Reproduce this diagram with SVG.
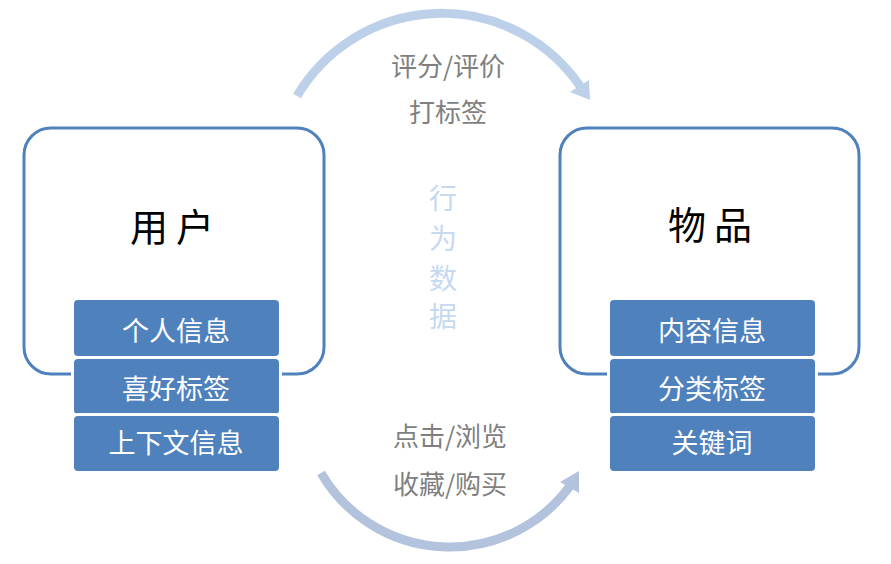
<svg xmlns="http://www.w3.org/2000/svg" width="891" height="564" viewBox="0 0 891 564">
<style>
.big{fill:#ffffff;stroke:#4f81bd;stroke-width:3}
.tab{fill:#4f81bd;stroke:#ffffff;stroke-width:6;paint-order:stroke}
.tabt{font-family:"Noto Sans CJK SC","Noto Sans",sans-serif;font-size:27px;fill:#ffffff;text-anchor:middle;dominant-baseline:central}
.title{font-family:"Noto Sans CJK SC",sans-serif;font-size:38px;fill:#000000;text-anchor:middle;dominant-baseline:central;letter-spacing:8px}
.lbl{font-family:"Noto Sans CJK SC","Noto Sans",sans-serif;font-size:26px;fill:#7f7f7f;text-anchor:middle;dominant-baseline:central}
.vert{font-family:"Noto Sans CJK SC",sans-serif;font-size:28px;fill:#c6d9f1;text-anchor:middle;dominant-baseline:central}
</style>
<rect width="891" height="564" fill="#ffffff"/>
<g id="connectors">
<path d="M297,96 A168,168 0 0 1 580,86" fill="none" stroke="#bdd0ea" stroke-width="9"/>
<polygon points="570,92 589,80 590,100" fill="#bdd0ea"/>
<path d="M321,473 A149,149 0 0 0 570,486" fill="none" stroke="#b3c3dd" stroke-width="9"/>
<polygon points="560,482 579,493 579,471" fill="#b3c3dd"/>
</g>
<g id="user">
<rect class="big" x="24" y="128" width="300" height="246" rx="27"/>
<text class="title" x="176" y="224">用户</text>
</g>
<g id="user-info">
<rect class="tab" x="74" y="300" width="205" height="56" rx="4"/>
<text class="tabt" x="176" y="329">个人信息</text>
</g>
<g id="user-pref">
<rect class="tab" x="74" y="359" width="205" height="55" rx="4"/>
<text class="tabt" x="176" y="387">喜好标签</text>
</g>
<g id="user-context">
<rect class="tab" x="74" y="416" width="205" height="55" rx="4"/>
<text class="tabt" x="176" y="441">上下文信息</text>
</g>
<g id="item">
<rect class="big" x="560" y="128" width="299" height="246" rx="27"/>
<text class="title" x="714" y="222">物品</text>
</g>
<g id="item-content">
<rect class="tab" x="610" y="300" width="205" height="56" rx="4"/>
<text class="tabt" x="712" y="329">内容信息</text>
</g>
<g id="item-category">
<rect class="tab" x="610" y="359" width="205" height="55" rx="4"/>
<text class="tabt" x="712" y="387">分类标签</text>
</g>
<g id="item-keywords">
<rect class="tab" x="610" y="416" width="205" height="55" rx="4"/>
<text class="tabt" x="712" y="441">关键词</text>
</g>
<g id="labels">
<text class="lbl" x="448" y="64">评分/评价</text>
<text class="lbl" x="448" y="110">打标签</text>
<text class="lbl" x="450" y="434">点击/浏览</text>
<text class="lbl" x="450" y="482">收藏/购买</text>
<text class="vert" x="443" y="197">行</text>
<text class="vert" x="443" y="237">为</text>
<text class="vert" x="443" y="277">数</text>
<text class="vert" x="443" y="315">据</text>
</g>
</svg>
